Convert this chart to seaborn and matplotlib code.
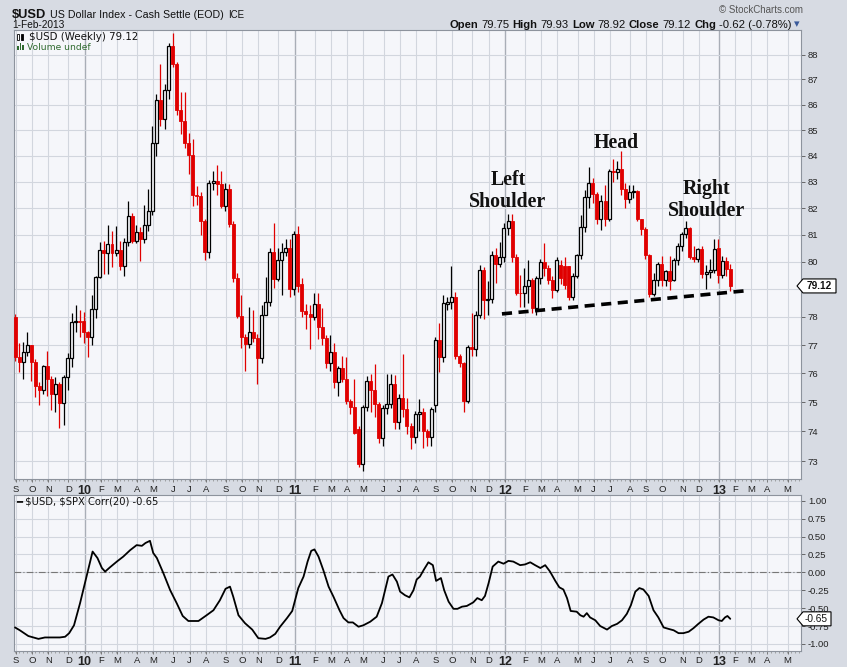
import numpy as np
import pandas as pd
import matplotlib
matplotlib.use("Agg")
import matplotlib.pyplot as plt
import matplotlib.transforms as mtrans
from matplotlib.patches import Polygon, Rectangle
from matplotlib.ticker import NullLocator, FixedLocator
import seaborn as sns

# ---------------- data ----------------
first_monday = "2009-09-07"   # weekly bars, week-start dates

opens = [78.01, 76.58, 76.39, 76.77, 77.00, 76.39, 75.55, 75.41, 76.25, 75.81,
         75.30, 75.64, 74.99, 75.88, 76.54, 77.82, 77.85, 77.85, 77.45, 77.30,
         78.28, 79.45, 80.44, 80.32, 80.65, 80.32, 80.44, 79.84, 80.72, 81.69,
         80.78, 81.11, 80.85, 81.38, 81.90, 84.50, 86.18, 85.45, 86.58, 88.35,
         87.63, 85.78, 85.36, 84.48, 84.03, 82.50, 82.47, 81.53, 80.37, 82.97,
         83.05, 82.92, 82.10, 82.73, 81.40, 79.41, 78.05, 77.30, 77.03, 77.47,
         77.24, 76.54, 78.07, 78.52, 80.38, 79.38, 80.08, 80.38, 80.50, 79.00,
         81.03, 79.20, 78.22, 78.10, 78.00, 78.45, 77.65, 77.24, 76.37, 76.75,
         75.70, 76.19, 75.81, 75.04, 74.82, 74.10, 72.90, 74.82, 75.73, 75.41,
         74.93, 73.78, 74.79, 74.93, 75.64, 74.33, 75.16, 74.76, 74.17, 73.82,
         74.58, 74.66, 74.00, 73.80, 74.90, 77.18, 76.58, 78.45, 78.55, 78.71,
         76.60, 76.37, 75.03, 76.93, 76.85, 78.07, 79.72, 78.61, 78.65, 80.26,
         79.93, 80.17, 81.25, 81.50, 80.19, 78.88, 78.85, 79.13, 79.35, 78.31,
         79.41, 80.01, 79.76, 79.35, 78.98, 79.90, 79.84, 79.84, 78.73, 79.49,
         80.26, 81.29, 82.42, 82.95, 82.55, 81.61, 82.28, 81.61, 83.40, 83.38,
         83.50, 82.72, 82.36, 82.60, 82.65, 81.59, 81.22, 80.26, 78.83, 79.35,
         79.93, 79.35, 79.66, 79.35, 80.08, 80.59, 81.03, 81.25, 80.17, 80.12,
         80.46, 79.56, 79.62, 79.70, 80.50, 79.53, 80.05, 79.75]

closes = [76.58, 76.39, 76.77, 77.00, 76.39, 75.55, 75.41, 76.25, 75.81, 75.30,
          75.64, 74.99, 75.88, 76.54, 77.82, 77.85, 77.83, 77.45, 77.30, 78.28,
          79.45, 80.44, 80.32, 80.65, 80.32, 80.44, 79.84, 80.72, 81.69, 80.78,
          81.11, 80.85, 81.38, 81.90, 84.50, 86.18, 85.45, 86.58, 88.35, 87.63,
          85.78, 85.36, 84.48, 84.03, 82.50, 82.47, 81.53, 80.37, 82.97, 83.05,
          82.92, 82.10, 82.73, 81.40, 79.41, 78.05, 77.30, 77.03, 77.47, 77.24,
          76.54, 78.07, 78.52, 80.38, 79.38, 80.08, 80.38, 80.50, 79.00, 81.03,
          79.13, 78.22, 78.10, 78.00, 78.45, 77.65, 77.24, 76.37, 76.75, 75.70,
          76.19, 75.81, 75.04, 74.82, 73.96, 72.90, 74.82, 75.73, 75.41, 74.93,
          73.78, 74.79, 74.93, 75.64, 74.33, 75.16, 74.76, 74.17, 73.82, 74.58,
          74.66, 74.00, 73.80, 74.76, 77.18, 76.58, 78.49, 78.55, 78.71, 76.60,
          76.37, 75.03, 76.93, 76.85, 78.07, 79.72, 78.61, 78.65, 80.26, 79.93,
          80.17, 81.25, 81.50, 80.19, 78.88, 78.85, 79.13, 79.35, 78.31, 79.41,
          80.01, 79.76, 79.35, 78.98, 80.08, 79.40, 79.16, 78.73, 79.49, 80.26,
          81.29, 82.42, 82.95, 82.55, 81.61, 82.28, 81.61, 83.40, 83.38, 83.50,
          82.72, 82.36, 82.60, 82.65, 81.59, 81.22, 80.26, 78.83, 79.35, 79.93,
          79.35, 79.66, 79.29, 80.08, 80.59, 81.03, 81.25, 80.17, 80.12, 80.46,
          79.56, 79.62, 79.70, 80.48, 79.53, 80.05, 79.74, 79.12]

highs = [78.10, 77.08, 77.09, 77.48, 77.00, 76.50, 75.70, 76.30, 76.80, 75.90,
         75.86, 75.70, 75.95, 76.73, 78.15, 78.43, 78.25, 78.19, 77.50, 78.80,
         79.50, 80.75, 80.79, 81.38, 81.13, 81.32, 80.78, 80.90, 82.26, 81.80,
         81.35, 81.30, 82.13, 82.73, 85.17, 86.42, 87.60, 86.80, 88.45, 88.86,
         87.70, 86.50, 86.50, 84.90, 84.64, 82.85, 82.60, 81.60, 83.08, 83.40,
         83.63, 83.40, 82.95, 82.90, 81.50, 79.60, 78.80, 77.40, 78.37, 78.25,
         77.40, 78.43, 79.46, 80.50, 81.46, 80.50, 80.70, 80.83, 80.86, 81.15,
         81.32, 79.40, 78.45, 78.43, 78.85, 78.85, 78.31, 77.36, 77.36, 77.06,
         76.27, 76.60, 76.57, 75.10, 75.79, 74.20, 74.90, 75.90, 75.99, 76.34,
         75.00, 74.90, 75.99, 75.99, 75.93, 75.30, 76.70, 75.13, 74.30, 74.70,
         75.10, 74.80, 74.10, 74.85, 77.30, 77.78, 78.80, 78.73, 79.86, 78.89,
         76.70, 76.40, 77.00, 78.13, 78.20, 79.87, 79.80, 79.30, 80.40, 80.50,
         80.74, 81.44, 81.79, 81.79, 80.30, 79.53, 79.79, 80.08, 79.40, 79.50,
         80.10, 80.70, 79.90, 79.50, 80.19, 80.08, 80.19, 79.84, 79.60, 80.30,
         81.75, 82.70, 83.55, 83.15, 82.60, 82.50, 82.89, 83.50, 83.88, 83.78,
         84.17, 82.95, 82.89, 82.89, 82.70, 81.60, 81.30, 80.30, 79.60, 80.00,
         80.22, 79.70, 80.20, 80.15, 80.70, 81.10, 81.50, 81.30, 80.60, 80.50,
         80.60, 79.90, 80.10, 80.86, 80.86, 80.20, 80.19, 79.93]

lows = [76.45, 76.04, 75.79, 76.60, 75.73, 75.17, 74.90, 75.30, 75.20, 74.73,
        74.65, 74.11, 74.23, 75.44, 76.22, 77.48, 77.30, 77.08, 76.57, 77.00,
        77.98, 79.40, 79.54, 79.54, 79.83, 80.20, 79.72, 79.50, 80.60, 80.70,
        80.70, 80.05, 80.70, 81.15, 81.75, 84.00, 85.17, 85.03, 86.22, 87.50,
        85.60, 84.83, 84.30, 83.30, 82.10, 82.13, 80.99, 80.08, 80.16, 82.70,
        82.50, 82.00, 81.88, 81.30, 79.26, 77.97, 76.89, 76.10, 76.90, 77.10,
        75.62, 76.37, 78.07, 78.40, 79.05, 79.30, 78.80, 80.20, 78.73, 78.80,
        78.90, 78.00, 77.56, 76.85, 77.90, 77.20, 77.00, 76.20, 76.07, 75.50,
        75.22, 75.70, 74.95, 74.60, 73.93, 72.80, 72.66, 74.70, 74.65, 74.50,
        73.60, 73.49, 74.60, 74.80, 74.10, 74.10, 74.50, 73.90, 73.41, 73.60,
        74.00, 73.44, 73.50, 73.52, 74.65, 76.04, 76.40, 78.25, 78.30, 76.50,
        76.22, 74.67, 74.96, 76.60, 76.60, 77.95, 77.92, 78.07, 78.50, 79.22,
        79.80, 80.00, 81.00, 80.00, 78.80, 78.37, 78.37, 78.50, 78.15, 78.07,
        79.20, 79.50, 79.20, 78.70, 78.90, 79.20, 79.00, 78.60, 78.61, 79.40,
        80.10, 81.10, 82.00, 82.20, 81.40, 81.19, 81.34, 81.50, 83.00, 83.10,
        82.50, 82.00, 82.20, 82.40, 81.50, 81.00, 80.10, 78.73, 78.75, 79.10,
        79.10, 79.10, 78.98, 79.30, 79.90, 80.40, 80.90, 80.10, 80.00, 80.00,
        79.42, 79.00, 79.40, 79.60, 79.22, 79.40, 79.50, 78.92]

corr_weeks = [0, 1.2, 3.3, 5.8, 7.4, 11.1, 12.4, 13.4, 14.6, 16.1,
              17.7, 19.2, 20.4, 21.5, 22.3, 23.5, 25.2, 26.8, 28.5, 30.1,
              31.4, 32.3, 33.4, 34.2, 35.1, 36.7, 38.4, 40.0, 41.5, 42.9,
              45.4, 47.4, 49.1, 50.7, 52.1, 53.2, 54.0, 55.3, 56.9, 58.7,
              60.2, 62.0, 63.1, 64.4, 65.6, 67.3, 68.6, 70.1, 71.4, 72.4,
              73.3, 74.1, 75.1, 76.3, 77.6, 78.8, 80.3, 81.3, 82.5, 83.6,
              85.0, 86.2, 87.9, 89.5, 90.8, 92.4, 93.4, 94.5, 95.3, 96.5,
              97.6, 98.6, 99.4, 100.2, 101.1, 102.3, 103.4, 104.2, 105.4, 106.2,
              107.3, 108.5, 109.5, 110.6, 111.8, 113.4, 114.4, 115.5, 116.3, 117.2,
              118.2, 119.6, 120.9, 122.1, 123.3, 125.0, 126.2, 127.5, 128.7, 130.0,
              131.2, 132.4, 133.7, 134.7, 135.7, 136.6, 137.5, 139.0, 139.9, 140.7,
              141.5, 142.3, 143.6, 144.8, 146.5, 147.7, 149.0, 150.2, 151.4, 152.4,
              153.5, 154.5, 155.5, 156.8, 158.0, 159.2, 160.5, 161.7, 163.0, 164.2,
              165.4, 166.7, 167.9, 169.1, 170.4, 171.6, 172.8, 174.1, 174.9, 175.7,
              176.3, 177.0]

corr_vals = [-0.77, -0.81, -0.89, -0.93, -0.91, -0.91, -0.90, -0.85, -0.74, -0.43,
             -0.06, 0.29, 0.20, 0.06, 0.01, 0.07, 0.15, 0.22, 0.31, 0.38,
             0.37, 0.41, 0.44, 0.27, 0.20, -0.01, -0.25, -0.43, -0.61, -0.68,
             -0.68, -0.60, -0.53, -0.39, -0.23, -0.20, -0.34, -0.60, -0.71, -0.80,
             -0.92, -0.93, -0.91, -0.86, -0.76, -0.64, -0.54, -0.22, -0.06, 0.15,
             0.30, 0.32, 0.22, 0.03, -0.20, -0.34, -0.53, -0.64, -0.70, -0.70,
             -0.76, -0.74, -0.69, -0.62, -0.43, -0.06, -0.03, -0.13, -0.27, -0.32,
             -0.35, -0.25, -0.10, -0.06, 0.03, 0.14, 0.10, -0.12, -0.08, -0.25,
             -0.41, -0.51, -0.51, -0.48, -0.47, -0.42, -0.36, -0.39, -0.33, -0.15,
             0.08, 0.15, 0.12, 0.16, 0.15, 0.10, 0.11, 0.14, 0.10, 0.06,
             0.10, 0.01, -0.12, -0.21, -0.24, -0.36, -0.54, -0.55, -0.60, -0.62,
             -0.57, -0.63, -0.67, -0.75, -0.80, -0.75, -0.72, -0.67, -0.58, -0.46,
             -0.27, -0.22, -0.24, -0.33, -0.53, -0.63, -0.77, -0.79, -0.81, -0.85,
             -0.85, -0.83, -0.78, -0.72, -0.66, -0.62, -0.63, -0.67, -0.68, -0.63,
             -0.61, -0.65]

price_ticks = list(range(73, 89))
corr_ticks = [1.0, 0.75, 0.5, 0.25, 0.0, -0.25, -0.5, -0.75, -1.0]
neck_weeks = [120.5, 180.5]
neck_prices = [78.11, 78.94]
last_price = 79.12
last_corr = -0.65

# ---------------- style ----------------
sns.set_theme(style="white")
plt.rcParams['font.family'] = ['Liberation Sans', 'DejaVu Sans']

W, H = 847, 667
BG = '#d7dbe3'
PANEL = '#f5f6fa'
GRID = '#d2d6de'
YEARGRID = '#a9aeb7'
RED = '#e00000'

fig = plt.figure(figsize=(W / 100, H / 100), dpi=100, facecolor=BG)


def fx(px):
    return px / W


def fy(py):
    return 1 - py / H


ax = fig.add_axes([fx(14), fy(479.3), fx(801) - fx(14), fy(30) - fy(479.3)])
ax2 = fig.add_axes([fx(14), fy(650.7), fx(801) - fx(14), fy(494.5) - fy(650.7)])

for a in (ax, ax2):
    a.set_facecolor(PANEL)
    for s in a.spines.values():
        s.set_color('#8d939d')
        s.set_linewidth(0.8)

XMIN, XMAX = -0.25, 194.5

# month ticks from weekly calendar
all_weeks = pd.date_range(first_monday, periods=196, freq='W-MON')
tick_pos, tick_lab, is_year = [], [], []
prev = None
for i, d in enumerate(all_weeks):
    if prev is None or d.month != prev:
        p = i + 0.2
        if p < XMAX:
            tick_pos.append(p)
            if d.month == 1:
                tick_lab.append(f"{d.year % 100:02d}")
                is_year.append(True)
            else:
                tick_lab.append('JFMAMJJASOND'[d.month - 1])
                is_year.append(False)
    prev = d.month

# ---------------- price panel ----------------
xs = np.arange(len(closes))
o = np.array(opens)
c = np.array(closes)
h = np.array(highs)
l = np.array(lows)
up = c >= o
body_lo = np.minimum(o, c)
body_h = np.maximum(np.abs(c - o), 0.025)

ax.set_yscale('log')
ax.set_xlim(XMIN, XMAX)
ax.set_ylim(72.39, 89.0)

for p, yr in zip(tick_pos, is_year):
    for a in (ax, ax2):
        a.axvline(p, color=YEARGRID if yr else GRID, lw=1.0 if yr else 0.8, zorder=0.5)
for t in price_ticks:
    ax.axhline(t, color=GRID, lw=0.8, zorder=0.5)

wick_col = np.where(up, 'black', RED)
ax.vlines(xs, l, h, colors=list(wick_col), lw=0.9, zorder=2)
ax.bar(xs[up], body_h[up], bottom=body_lo[up], width=0.74, color=PANEL,
       edgecolor='black', lw=0.9, zorder=3)
ax.bar(xs[~up], body_h[~up], bottom=body_lo[~up], width=0.74, color=RED,
       edgecolor=RED, lw=0.6, zorder=3)

ax.plot(neck_weeks, neck_prices, color='black', lw=2.6, ls=(0, (2.8, 1.8)),
        zorder=4, solid_capstyle='butt', dash_capstyle='butt')

ann_font = dict(family=['Liberation Serif', 'DejaVu Serif'], fontweight='bold',
                fontsize=14.3, color='#111111', ha='center', va='center',
                linespacing=1.15, zorder=6)
ax.text(122.0, 82.65, "Left\nShoulder", **ann_font)
ax.text(148.8, 84.5, "Head", **ann_font)
ax.text(171.2, 82.3, "Right\nShoulder", **ann_font)

ax.yaxis.tick_right()
ax.set_yticks(price_ticks)
# the "79" label sits under the last-price tag, as in the reference
ax.set_yticklabels(['' if t == round(last_price) else str(t) for t in price_ticks])
ax.yaxis.set_minor_locator(NullLocator())
ax.tick_params(axis='y', which='major', right=True, left=False, length=3,
               width=0.6, color='#555555', labelsize=6.8, pad=2,
               labelcolor='#222222')

# ---------------- correlation panel ----------------
ax2.set_xlim(XMIN, XMAX)
ax2.set_ylim(-1.095, 1.087)
for t in corr_ticks:
    ax2.axhline(t, color=GRID, lw=0.8, zorder=0.5)
ax2.axhline(0, color='#777777', lw=0.8, ls=(0, (6, 2, 1, 2)), zorder=1)
sns.lineplot(x=corr_weeks, y=corr_vals, ax=ax2, color='black', lw=1.3,
             sort=False, estimator=None, zorder=3)
ax2.set_xlabel('')
ax2.set_ylabel('')
ax2.yaxis.tick_right()
ax2.set_yticks(corr_ticks)
ax2.set_yticklabels([f"{t:.2f}" for t in corr_ticks])
ax2.tick_params(axis='y', right=True, left=False, length=3, width=0.6,
                color='#555555', labelsize=6.8, pad=2, labelcolor='#222222')

# ---------------- x tick labels ----------------
for a in (ax, ax2):
    a.set_xticks(tick_pos)
    a.set_xticklabels(tick_lab)
    a.xaxis.set_minor_locator(FixedLocator(np.arange(0, XMAX, 1.0)))
    a.tick_params(axis='x', which='major', bottom=True, length=2.5, width=0.6,
                  color='#666666', labelsize=6.8, pad=1.5, labelcolor='#222222')
    a.tick_params(axis='x', which='minor', bottom=True, length=1.5, width=0.5,
                  color='#888888')
    for lab, yr in zip(a.get_xticklabels(), is_year):
        lab.set_family(['Liberation Sans Narrow', 'Liberation Sans'])
        if yr:
            lab.set_fontweight('bold')
            lab.set_fontsize(9)

# ---------------- header texts ----------------
fig.canvas.draw()
renderer = fig.canvas.get_renderer()


def chain(x, y, parts, color='#111111', gap=3.2):
    for s, weight, size in parts:
        t = fig.text(fx(x), fy(y), s, fontsize=size, fontweight=weight,
                     color=color, va='baseline', ha='left')
        x = t.get_window_extent(renderer).x1 + gap
    return x


chain(12, 18, [("\\$USD", 'bold', 9.3),
               ("US Dollar Index - Cash Settle (EOD)", 'normal', 7.7),
               ("ICE", 'normal', 7.0)], gap=4.0)
fig.text(fx(12), fy(28.5), "1-Feb-2013", fontsize=7.3, color='#111111', va='baseline')
fig.text(fx(803), fy(13), "\u00a9 StockCharts.com", fontsize=7.0, color='#555555',
         ha='right', va='baseline')

sz = 8.1
parts = [("Open", 'bold', sz), ("79.75", 'normal', sz), ("High", 'bold', sz),
         ("79.93", 'normal', sz), ("Low", 'bold', sz), ("78.92", 'normal', sz),
         ("Close", 'bold', sz), ("79.12", 'normal', sz), ("Chg", 'bold', sz),
         ("-0.62 (-0.78%)", 'normal', sz)]
xend = chain(449, 27.5, parts)
fig.text(fx(xend - 1.5), fy(27.5), "\u25be", fontsize=8, color='#3a5a9a',
         va='baseline', family=['DejaVu Sans'])

# panel legends
leg_font = dict(family=['DejaVu Sans'], va='baseline')
fig.text(fx(29), fy(40), "\\$USD (Weekly) 79.12", fontsize=7.4, color='#111111', **leg_font)
fig.text(fx(27), fy(50), "Volume undef", fontsize=6.6, color='#2f6a2f', **leg_font)
# small candle icon
fig.add_artist(Rectangle((fx(17), fy(40)), fx(2), fy(34) - fy(40), transform=fig.transFigure,
                         fc='white', ec='black', lw=0.6))
fig.add_artist(Rectangle((fx(21), fy(40)), fx(2), fy(34) - fy(40), transform=fig.transFigure,
                         fc='black', ec='black', lw=0.6))
for k, hh in enumerate([4, 7, 5]):
    fig.add_artist(Rectangle((fx(17 + 2.5 * k), fy(50)), fx(1.6), hh / H,
                             transform=fig.transFigure, fc='#2f6a2f', ec='none'))
fig.text(fx(16), fy(505), "\u2501 \\$USD, \\$SPX Corr(20) -0.65", fontsize=7.2,
         color='#111111', **leg_font)

# value tags on the right axis
ident = mtrans.IdentityTransform()


def tag(a, val, text, bold, w=34):
    yd = a.transData.transform((0, val))[1]
    x0 = a.transAxes.transform((1, 0))[0]
    hh = 7
    poly = Polygon([[x0 - 4, yd], [x0 + 2, yd + hh], [x0 + w, yd + hh],
                    [x0 + w, yd - hh], [x0 + 2, yd - hh]], closed=True,
                   transform=ident, fc='white', ec='black', lw=0.8, zorder=10)
    fig.add_artist(poly)
    fig.text((x0 + 1 + x0 + w) / 2 / W, yd / H, text, fontsize=7.3,
             fontweight='bold' if bold else 'normal', ha='center', va='center',
             color='#111111', zorder=11)


tag(ax, last_price, "79.12", True, w=35)
tag(ax2, last_corr, "-0.65", False, w=30)

fig.savefig("out.png", dpi=100, facecolor=BG)
